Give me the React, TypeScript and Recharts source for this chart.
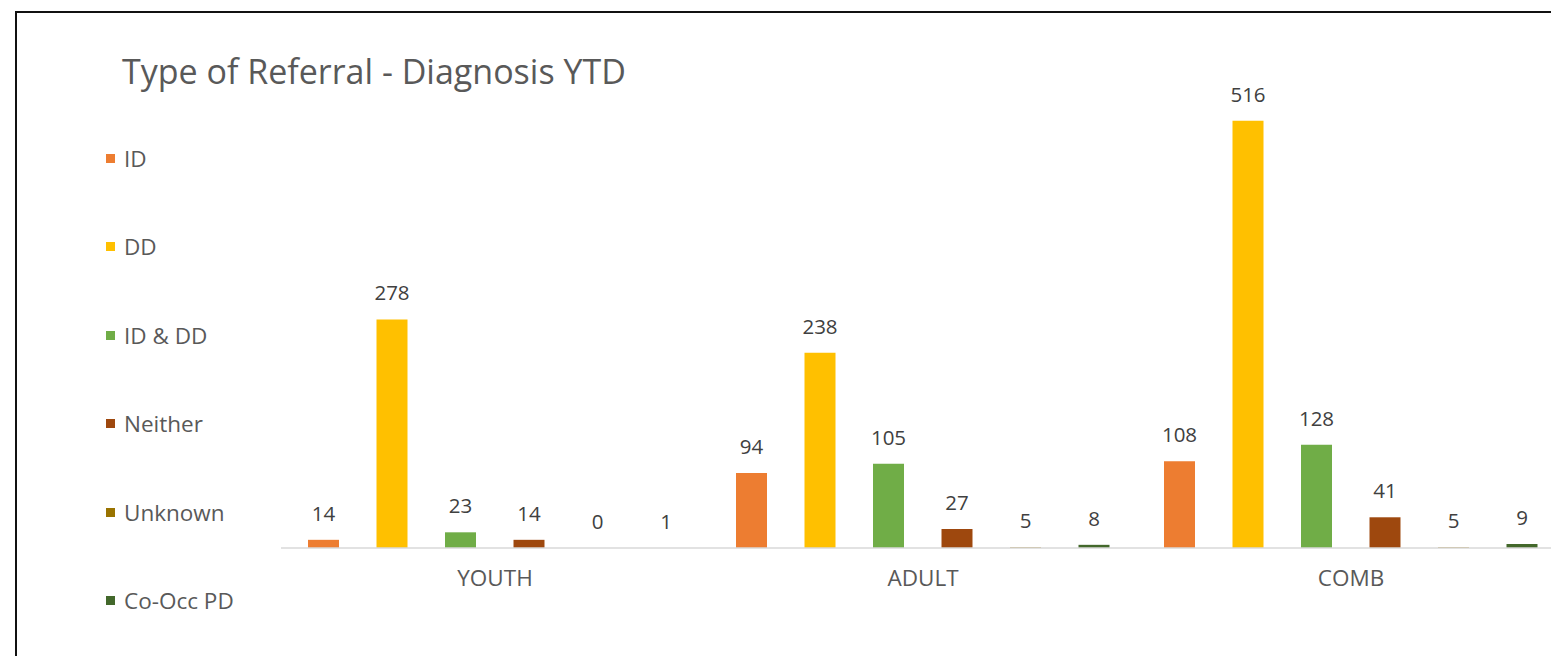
import React from "react";
import { BarChart, Bar, XAxis, YAxis, Legend, LabelList } from "recharts";

const categories = ["YOUTH", "ADULT", "COMB"];
const idValues = [14, 94, 108];
const ddValues = [278, 238, 516];
const idDdValues = [23, 105, 128];
const neitherValues = [14, 27, 41];
const unknownValues = [0, 5, 5];
const coOccValues = [1, 8, 9];

const seriesNames = ["ID", "DD", "ID & DD", "Neither", "Unknown", "Co-Occ PD"];
const seriesColors = ["#ED7D31", "#FFC000", "#70AD47", "#9E480E", "#997300", "#43682B"];
const seriesValues = [idValues, ddValues, idDdValues, neitherValues, unknownValues, coOccValues];

const data = categories.map((name, i) => {
  const row: Record<string, string | number> = { name };
  seriesNames.forEach((s, j) => {
    row[s] = seriesValues[j][i];
  });
  return row;
});

const FONT = "'Open Sans', sans-serif";

function BarValueLabel(props: any) {
  const vb = props.viewBox ?? props;
  const x = Number(vb.x);
  const y = Number(vb.y);
  const w = Number(vb.width);
  const h = Number(vb.height);
  const top = Math.min(y, y + h);
  return (
    <text x={x + w / 2} y={top - 19} textAnchor="middle" fontSize={20.5} fill="#404040" fontFamily={FONT}>
      {props.value}
    </text>
  );
}

// legend sits in the left gutter; keep its wrapper zero-sized so the plot is not pushed
function SideLegend() {
  return (
    <div style={{ position: "absolute", left: 106, top: 145, fontFamily: FONT, width: 200 }}>
      {seriesNames.map((s, j) => (
        <div
          key={s}
          style={{ height: 26, marginBottom: 62.5, display: "flex", alignItems: "center", color: "#595959", fontSize: 22.5 }}
        >
          <span style={{ width: 9, height: 9, background: seriesColors[j], display: "inline-block", marginRight: 9 }} />
          <span>{s}</span>
        </div>
      ))}
    </div>
  );
}

export default function App() {
  return (
    <div style={{ position: "fixed", left: 0, top: 0, width: 1551, height: 656, overflow: "hidden", background: "#fff" }}>
      <div
        style={{
          position: "absolute",
          left: 15,
          top: 11,
          width: 1600,
          height: 700,
          border: "2px solid #111",
        }}
      />
      <div
        style={{
          position: "absolute",
          left: 122,
          top: 48,
          fontFamily: FONT,
          fontSize: 34,
          color: "#595959",
          whiteSpace: "nowrap",
        }}
      >
        Type of Referral - Diagnosis YTD
      </div>
      <div style={{ position: "absolute", left: 0, top: 0 }}>
        <BarChart
          width={1600}
          height={656}
          data={data}
          margin={{ top: 50.7, right: 35, bottom: 0, left: 281 }}
          barSize={31}
          barGap={37.5}
        >
          <XAxis
            dataKey="name"
            axisLine={{ stroke: "#d9d9d9", strokeWidth: 1.5 }}
            tickLine={false}
            tickMargin={16}
            tick={{ fill: "#595959", fontSize: 22.5, fontFamily: FONT }}
            height={108}
          />
          <YAxis hide domain={[4.2, 600]} allowDataOverflow />
          <Legend
            layout="vertical"
            align="left"
            verticalAlign="top"
            content={SideLegend}
            wrapperStyle={{ left: 0, top: 0, width: 0, height: 0 }}
          />
          {seriesNames.map((s, j) => (
            <Bar key={s} dataKey={s} fill={seriesColors[j]} isAnimationActive={false}>
              <LabelList dataKey={s} content={BarValueLabel} />
            </Bar>
          ))}
        </BarChart>
      </div>
    </div>
  );
}
